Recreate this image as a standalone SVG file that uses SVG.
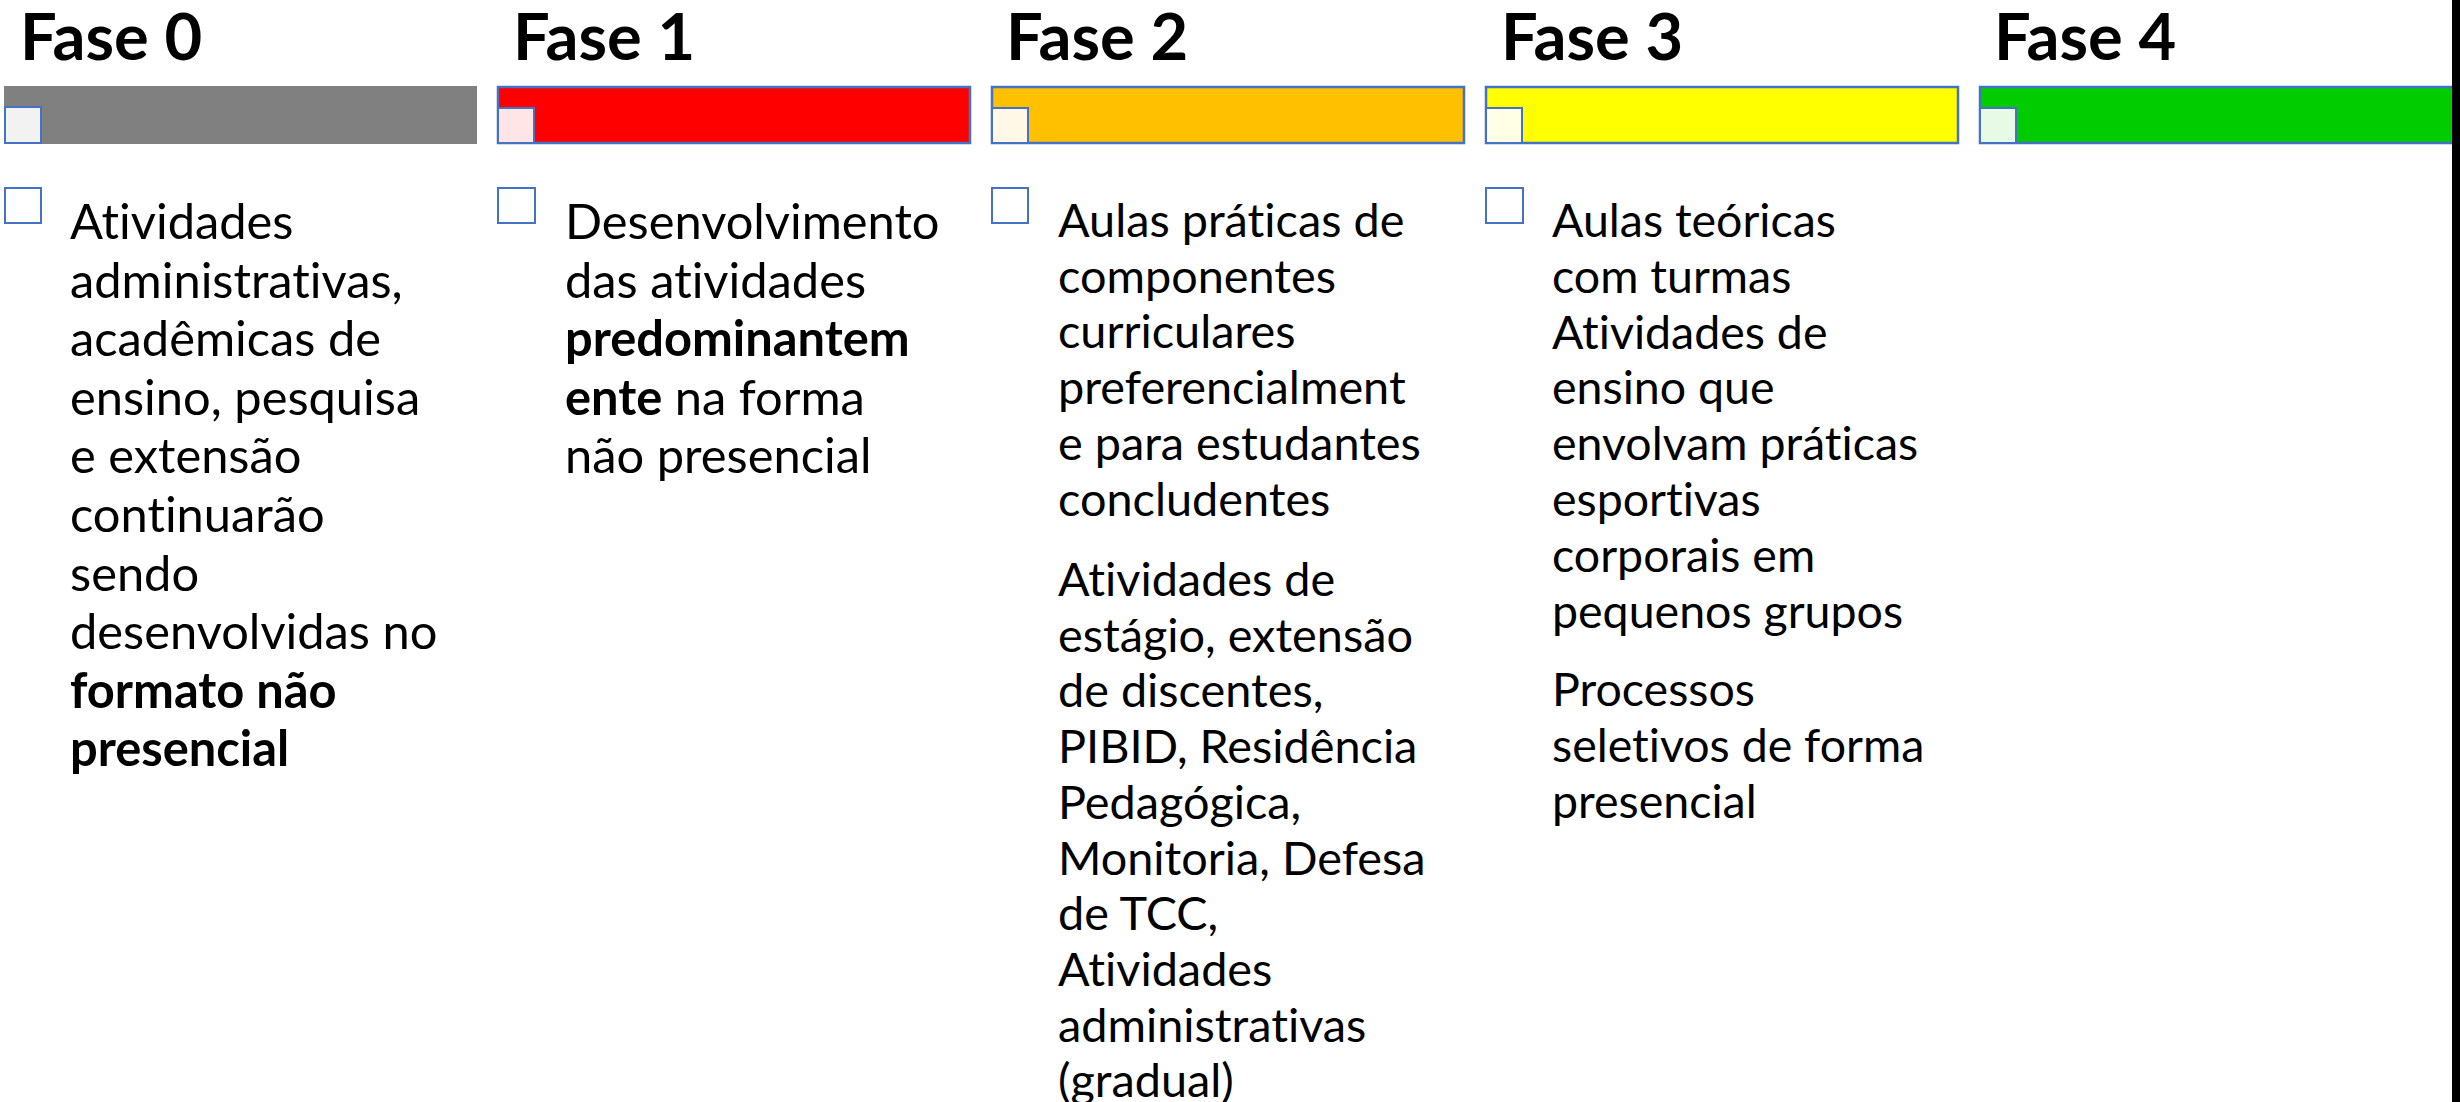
<svg xmlns="http://www.w3.org/2000/svg" width="2460" height="1102" viewBox="0 0 2460 1102">
<style>
text{font-variant-ligatures:none;font-feature-settings:"liga" 0,"dlig" 0}
.title{font-family:Lato,"Liberation Sans",sans-serif;font-weight:700;font-size:65px;fill:#000}
.body{font-family:Lato,"Liberation Sans",sans-serif;font-size:48.8px;fill:#000}
.body2{font-family:Lato,"Liberation Sans",sans-serif;font-size:46.8px;fill:#000}
.body3{font-family:Lato,"Liberation Sans",sans-serif;font-size:46.5px;fill:#000}
.b{font-weight:700}
.bar{stroke:#4472c4;stroke-width:2.5}
.sq{stroke:#4472c4;stroke-width:2}
.bul{fill:#fff;stroke:#4472c4;stroke-width:2}
</style>
<rect width="2460" height="1102" fill="#fff"/>
<g id="connectors"/>
<g id="fase0">
  <text class="title" x="20" y="60">Fase 0</text>
  <rect x="4" y="86" width="473" height="58" fill="#808080"/>
  <rect class="sq" x="5" y="107" width="36" height="36" fill="#f2f2f2"/>
  <rect class="bul" x="5" y="188" width="36" height="35"/>
  <text class="body" x="70">
    <tspan x="70" y="239">Atividades</tspan>
    <tspan x="70" y="297.6">administrativas,</tspan>
    <tspan x="70" y="356.2">acadêmicas de</tspan>
    <tspan x="70" y="414.8">ensino, pesquisa</tspan>
    <tspan x="70" y="473.4">e extensão</tspan>
    <tspan x="70" y="532">continuarão</tspan>
    <tspan x="70" y="590.6">sendo</tspan>
    <tspan x="70" y="649.2">desenvolvidas no</tspan>
    <tspan x="70" y="707.8" class="b">formato não</tspan>
    <tspan x="70" y="766.4" class="b">presencial</tspan>
  </text>
</g>
<g id="fase1">
  <text class="title" x="513" y="60">Fase 1</text>
  <rect class="bar" x="498" y="87" width="472" height="56" fill="#ff0000"/>
  <rect class="sq" x="498" y="108" width="36" height="35" fill="#ffe5e5"/>
  <rect class="bul" x="498" y="188" width="37" height="35"/>
  <text class="body" x="565">
    <tspan x="565" y="239">Desenvolvimento</tspan>
    <tspan x="565" y="297.6">das atividades</tspan>
    <tspan x="565" y="356.2" class="b">predominantem</tspan>
    <tspan x="565" y="414.8"><tspan class="b">ente</tspan> na forma</tspan>
    <tspan x="565" y="473.4">não presencial</tspan>
  </text>
</g>
<g id="fase2">
  <text class="title" x="1006" y="60">Fase 2</text>
  <rect class="bar" x="992" y="87" width="472" height="56" fill="#ffc000"/>
  <rect class="sq" x="992" y="108" width="36" height="35" fill="#fff8e6"/>
  <rect class="bul" x="992" y="188" width="36" height="35"/>
  <text class="body2" x="1058">
    <tspan x="1058" y="237">Aulas práticas de</tspan>
    <tspan x="1058" y="292.7">componentes</tspan>
    <tspan x="1058" y="348.4">curriculares</tspan>
    <tspan x="1058" y="404.1">preferencialment</tspan>
    <tspan x="1058" y="459.8">e para estudantes</tspan>
    <tspan x="1058" y="515.5">concludentes</tspan>
    <tspan x="1058" y="596">Atividades de</tspan>
    <tspan x="1058" y="651.7">estágio, extensão</tspan>
    <tspan x="1058" y="707.4">de discentes,</tspan>
    <tspan x="1058" y="763.1">PIBID, Residência</tspan>
    <tspan x="1058" y="818.8">Pedagógica,</tspan>
    <tspan x="1058" y="874.5">Monitoria, Defesa</tspan>
    <tspan x="1058" y="930.2">de TCC,</tspan>
    <tspan x="1058" y="985.9">Atividades</tspan>
    <tspan x="1058" y="1041.6">administrativas</tspan>
    <tspan x="1058" y="1097.3">(gradual)</tspan>
  </text>
</g>
<g id="fase3">
  <text class="title" x="1501" y="60">Fase 3</text>
  <rect class="bar" x="1486" y="87" width="472" height="56" fill="#ffff00"/>
  <rect class="sq" x="1486" y="108" width="36" height="35" fill="#ffffe6"/>
  <rect class="bul" x="1486" y="188" width="37" height="35"/>
  <text class="body3" x="1552">
    <tspan x="1552" y="237">Aulas teóricas</tspan>
    <tspan x="1552" y="292.8">com turmas</tspan>
    <tspan x="1552" y="348.6">Atividades de</tspan>
    <tspan x="1552" y="404.4">ensino que</tspan>
    <tspan x="1552" y="460.2">envolvam práticas</tspan>
    <tspan x="1552" y="516">esportivas</tspan>
    <tspan x="1552" y="571.8">corporais em</tspan>
    <tspan x="1552" y="627.6">pequenos grupos</tspan>
    <tspan x="1552" y="706">Processos</tspan>
    <tspan x="1552" y="761.8">seletivos de forma</tspan>
    <tspan x="1552" y="817.6">presencial</tspan>
  </text>
</g>
<g id="fase4">
  <text class="title" x="1994" y="60">Fase 4</text>
  <rect class="bar" x="1980" y="87" width="476" height="56" fill="#00cc00"/>
  <rect class="sq" x="1980" y="108" width="36" height="35" fill="#e6fae6"/>
</g>
<rect id="edge" x="2452" y="0" width="8" height="1102" fill="#000"/>
</svg>
